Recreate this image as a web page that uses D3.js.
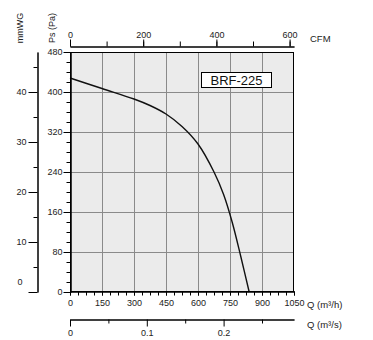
<!DOCTYPE html>
<html><head><meta charset="utf-8">
<script src="https://cdn.jsdelivr.net/npm/d3@7"></script>
<style>
body{margin:0;background:#fff;}
svg{display:block;font-family:"Liberation Sans",Arial,sans-serif;}
.tick text{fill:#222;font-size:9px;}
</style></head><body>
<script>
// Data
const flowM3h = [0, 150, 300, 375, 450, 525, 600, 675, 720, 760, 800, 840];
const pressurePa = [428, 407, 386, 373, 356, 331, 296, 240, 195, 140, 72, 0];
const qTicks = [0,150,300,450,600,750,900,1050];
const paTicks = [0,80,160,240,320,400,480];
const mmTicks = [0,10,20,30,40];
const cfmTicks = [0,100,200,300,400,500,600];
const cfmLabels = [0,200,400,600];
const m3sTicks = [0,0.1,0.2];
const m3sMinor = [0.05,0.15,0.25];
const modelName = "BRF-225";

(function(){
const W=373,H=340;
const svg=d3.select("body").append("svg").attr("width",W).attr("height",H);
const L=70,R=294,T=52,B=292;
const x=d3.scaleLinear([0,1050],[L,R]);
const y=d3.scaleLinear([0,480],[B,T]);
const yMm=d3.scaleLinear([0,48],[B,T]);
const xCfm=d3.scaleLinear([0,612],[L,R]);
const xM3s=d3.scaleLinear([0,1050/3600],[L,R]);

svg.append("rect").attr("x",L).attr("y",T).attr("width",R-L).attr("height",B-T).attr("fill","#ebebeb");
const g=svg.append("g").attr("stroke","#8a8a8a").attr("stroke-width",1);
qTicks.slice(1,-1).forEach(v=>g.append("line").attr("x1",Math.round(x(v))+0.5).attr("x2",Math.round(x(v))+0.5).attr("y1",T).attr("y2",B));
paTicks.slice(1,-1).forEach(v=>g.append("line").attr("y1",Math.round(y(v))+0.5).attr("y2",Math.round(y(v))+0.5).attr("x1",L).attr("x2",R));

const pts=flowM3h.map((q,i)=>[q,pressurePa[i]]);
svg.append("path").datum(pts).attr("fill","none").attr("stroke","#111").attr("stroke-width",1.4)
  .attr("d",d3.line().x(d=>x(d[0])).y(d=>y(d[1])).curve(d3.curveCatmullRom.alpha(0.5)));

svg.append("rect").attr("x",L+0.5).attr("y",T+0.5).attr("width",R-L-1).attr("height",B-T-1).attr("fill","none").attr("stroke","#000");

function styleAxis(sel){sel.selectAll("path.domain").attr("stroke","#000");sel.selectAll(".tick line").attr("stroke","#000");}

const paMinor=d3.range(0,481,20);
svg.append("g").attr("transform",`translate(${L+0.5},0)`).call(d3.axisLeft(y).tickValues(paMinor).tickSize(4).tickSizeOuter(0).tickFormat("")).call(styleAxis);
svg.append("g").attr("transform",`translate(${L+0.5},0)`).call(d3.axisLeft(y).tickValues(paTicks).tickSize(7).tickSizeOuter(0).tickPadding(1)).call(styleAxis);

const mmX=37.5;
svg.append("g").attr("transform",`translate(${mmX},0)`).call(d3.axisLeft(yMm).tickValues([5,15,25,35,45]).tickSize(4).tickSizeOuter(0).tickFormat("")).call(styleAxis);
const mmAx=svg.append("g").attr("transform",`translate(${mmX},0)`).call(d3.axisLeft(yMm).tickValues(mmTicks).tickSize(9).tickSizeOuter(0).tickPadding(2)).call(styleAxis);
mmAx.selectAll(".tick").filter(d=>d===0).select("text").attr("dy","-0.85em").attr("x",-15);

svg.append("g").attr("transform",`translate(0,${B-0.5})`).call(d3.axisBottom(x).tickValues(d3.range(0,1051,37.5)).tickSize(4).tickSizeOuter(0).tickFormat("")).call(styleAxis);
svg.append("g").attr("transform",`translate(0,${B-0.5})`).call(d3.axisBottom(x).tickValues(qTicks).tickSize(4).tickSizeOuter(0).tickPadding(4).tickFormat(d3.format("d"))).call(styleAxis);

const topY=46.5;
svg.append("g").attr("transform",`translate(0,${topY})`).call(d3.axisTop(xCfm).tickValues(cfmTicks).tickSize(5).tickSizeOuter(0).tickFormat("")).call(styleAxis);
svg.append("g").attr("transform",`translate(0,${topY})`).call(d3.axisTop(xCfm).tickValues(cfmLabels).tickSize(7).tickSizeOuter(0).tickPadding(2)).call(styleAxis);

const sy=319.5;
svg.append("g").attr("transform",`translate(0,${sy})`).call(d3.axisBottom(xM3s).tickValues(m3sMinor).tickSize(4).tickSizeOuter(0).tickFormat("")).call(styleAxis);
svg.append("g").attr("transform",`translate(0,${sy})`).call(d3.axisBottom(xM3s).tickValues(m3sTicks).tickSize(7).tickSizeOuter(0).tickPadding(3).tickFormat(d=>d===0?"0":d3.format(".1f")(d))).call(styleAxis);

const tt=(t,xx,yy,rot,fs=9)=>{const e=svg.append("text").attr("font-size",fs).attr("fill","#222").text(t);
  if(rot){e.attr("transform",`translate(${xx},${yy}) rotate(-90)`).attr("text-anchor","middle");}else{e.attr("x",xx).attr("y",yy);} return e;};
tt("mmWG",23,28,true);
tt("Ps (Pa)",55,28,true);
tt("CFM",310,42,false,9.5);
tt("Q (m³/h)",307,308,false,9.5);
tt("Q (m³/s)",307,328,false,9.5);

svg.append("rect").attr("x",201.5).attr("y",72.5).attr("width",70).attr("height",15).attr("fill","#fff").attr("stroke","#000");
svg.append("text").attr("x",236.5).attr("y",85).attr("text-anchor","middle").attr("font-size",13).attr("fill","#111").text(modelName);
})();
</script></body></html>
